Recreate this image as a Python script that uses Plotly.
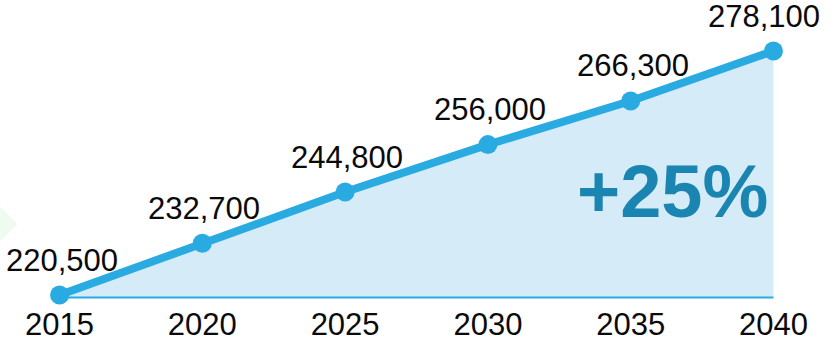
import plotly.graph_objects as go

years = [2015, 2020, 2025, 2030, 2035, 2040]
population = [220500, 232700, 244800, 256000, 266300, 278100]
labels = [f"{v:,}" for v in population]
growth_text = "+25%"

LINE = "#29abe2"
FILL = "#d5ecf8"
DARK = "#1a85b0"
FONT = "Liberation Sans, Arial, sans-serif"

upp = 57600 / 244.0  # value units per pixel
ymin = 220500 - 5 * upp
ymax = 278100 + 21 * upp
base = 220500 - 2.5 * upp

fig = go.Figure()
# baseline
fig.add_trace(go.Scatter(x=[years[0], years[-1]], y=[base, base], mode="lines",
                         line=dict(color=LINE, width=2), hoverinfo="skip", showlegend=False))
# area
fig.add_trace(go.Scatter(x=years, y=population, mode="lines", line=dict(width=0, color=FILL),
                         fill="tonexty", fillcolor=FILL, hoverinfo="skip", showlegend=False))
# line
fig.add_trace(go.Scatter(x=years, y=population, mode="lines+markers",
                         line=dict(color=LINE, width=8),
                         marker=dict(color=LINE, size=19),
                         cliponaxis=False, showlegend=False))

for i, (x, v, t) in enumerate(zip(years, population, labels)):
    fig.add_annotation(x=x, y=v, text=t, showarrow=False, yshift=35,
                       xshift=(-9 if i == len(years) - 1 else 2),
                       font=dict(family=FONT, size=31, color="#0a0a0a"))

fig.add_annotation(x=2036.46, y=220500 + (295 - 191) * upp, text=f"<b>{growth_text}</b>",
                   showarrow=False, font=dict(family=FONT, size=74, color=DARK))

# faint green decoration at left edge
fig.add_shape(type="path", xref="paper", yref="y", xsizemode="pixel", ysizemode="pixel",
              xanchor=-31.48 / 770.0, yanchor=220500 + (295 - 224) * upp,
              path="M -22,0 L -2,20 L 18,0 L -2,-20 Z",
              fillcolor="#effbef", line=dict(width=0), layer="below")

fig.update_layout(
    width=839, height=341,
    margin=dict(l=31.48, r=37.48, t=30, b=41, autoexpand=False),
    paper_bgcolor="white", plot_bgcolor="white",
    xaxis=dict(range=[2014, 2041], tickvals=years, ticktext=[str(y) for y in years],
               showgrid=False, zeroline=False, showline=False, ticks="", automargin=False,
               ticklabelstandoff=3,
               tickfont=dict(family=FONT, size=31, color="#0a0a0a")),
    yaxis=dict(range=[ymin, ymax], visible=False, showgrid=False, zeroline=False,
               automargin=False),
)

fig.write_html("out.html")
